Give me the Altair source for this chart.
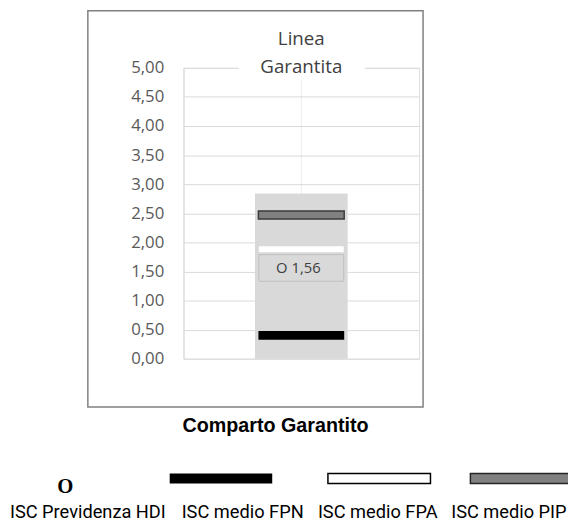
import altair as alt
import pandas as pd

# ---- data ----
categories = ["Linea Garantita"]
series_names = ["ISC Previdenza HDI", "ISC medio FPN", "ISC medio FPA", "ISC medio PIP"]
series_values = [1.56, 0.40, 1.88, 2.47]
range_low = [0.0]
range_high = [2.84]
y_ticks = [0, 0.5, 1, 1.5, 2, 2.5, 3, 3.5, 4, 4.5, 5]
title_text = "Comparto Garantito"

df_series = pd.DataFrame({"cat": categories * len(series_names),
                          "series": series_names, "value": series_values})
df_range = pd.DataFrame({"cat": categories, "low": range_low, "value": range_high})
df_cat = pd.DataFrame({"cat": categories})
one = pd.DataFrame({"k": [0]})

# ---- layout / style ----
PLOT_W, PLOT_H = 239, 295
LEG_FONT = "Roboto"
AX_FONT = "Open Sans"

x_enc = alt.X("cat:N",
              scale=alt.Scale(paddingInner=0, paddingOuter=0.771),
              axis=alt.Axis(labels=False, ticks=False, domain=False, title=None,
                            grid=True, gridColor="#ececec", bandPosition=0.5))
y_enc = alt.Y("value:Q",
              scale=alt.Scale(domain=[0, 5], nice=False, zero=True),
              axis=alt.Axis(values=y_ticks, title=None, ticks=False,
                            labelExpr="replace(format(datum.value, '.2f'), '.', ',')",
                            labelPadding=20, labelFontSize=17, labelColor="#595959",
                            labelFont=AX_FONT, grid=True, gridColor="#d9d9d9",
                            domainColor="#d9d9d9"))

bg = alt.Chart(df_range).mark_bar(color="#d9d9d9").encode(
    x=x_enc, y=y_enc, y2="low:Q")

def tick(name, **kw):
    return alt.Chart(df_series).transform_filter(
        alt.datum.series == name).mark_tick(orient="horizontal", opacity=1, **kw).encode(
        x=x_enc, y=y_enc)

pip = tick("ISC medio PIP", size=87, thickness=8, color="#808080",
           stroke="#3a3a3a", strokeWidth=1.5)
fpa = tick("ISC medio FPA", size=86, thickness=6, color="#ffffff")
fpn = tick("ISC medio FPN", size=87, thickness=9, color="#000000")
hdi_box = tick("ISC Previdenza HDI", size=86, thickness=27, color="#d9d9d9",
               stroke="#bfbfbf", strokeWidth=1)
hdi_txt = alt.Chart(df_series).transform_filter(
    alt.datum.series == "ISC Previdenza HDI").transform_calculate(
    label="'O ' + replace(format(datum.value, '.2f'), '.', ',')").mark_text(
    dx=-3, fontSize=15, color="#404040", font=AX_FONT, baseline="middle").encode(
    x=x_enc, y=y_enc, text="label:N")

# white label box behind the category name
cat_bg = alt.Chart(one).mark_rect(fill="#ffffff").encode(
    x=alt.value(56), x2=alt.value(184), y=alt.value(-44), y2=alt.value(12))
cat_txt = alt.Chart(df_cat).mark_text(
    lineBreak=" ", lineHeight=29, fontSize=19, color="#404040", font=AX_FONT,
    baseline="middle").encode(x=x_enc, y=alt.value(-29.5), text="cat:N")

border = alt.Chart(one).mark_rect(fillOpacity=0, stroke="#808080", strokeWidth=1.5).encode(
    x=alt.value(-97), x2=alt.value(243), y=alt.value(-58), y2=alt.value(344))

title = alt.Chart(one).mark_text(
    align="left", baseline="alphabetic", fontWeight="bold", fontSize=20,
    font="Liberation Sans", color="#000000").encode(
    x=alt.value(-1), y=alt.value(369), text=alt.value(title_text))

# legend layout (pixel positions relative to plot origin)
label_x = [-97, 60, 197, 330]
label_y = 457
sym_x = [-120, 38, 198.5, 343]
sym_y = 416.5
sym_len, sym_th = 104, 10
sym_style = [None,
             dict(fill="#000000"),
             dict(fill="#ffffff", stroke="#000000", strokeWidth=1.5),
             dict(fill="#808080", stroke="#262626", strokeWidth=1.5)]

legend_layers = []
for i, name in enumerate(series_names):
    legend_layers.append(alt.Chart(one).mark_text(
        fontSize=18.5, font=LEG_FONT, color="#000000", baseline="alphabetic").encode(
        x=alt.value(label_x[i]), y=alt.value(label_y), text=alt.value(name)))
    if sym_style[i] is None:
        legend_layers.append(alt.Chart(one).mark_text(
            fontSize=21, font="Liberation Serif", fontWeight="bold", color="#000000",
            baseline="middle").encode(
            x=alt.value(sym_x[i]), y=alt.value(425), text=alt.value("O")))
    else:
        legend_layers.append(alt.Chart(one).mark_rect(**sym_style[i]).encode(
            x=alt.value(sym_x[i] - sym_len / 2), x2=alt.value(sym_x[i] + sym_len / 2),
            y=alt.value(sym_y - sym_th / 2), y2=alt.value(sym_y + sym_th / 2)))

chart = alt.layer(bg, pip, fpa, fpn, hdi_box, hdi_txt, cat_bg, cat_txt, border, title,
                  *legend_layers).properties(
    width=PLOT_W, height=PLOT_H,
    autosize=alt.AutoSizeParams(type="none"),
    padding={"left": 178, "top": 57, "right": 151, "bottom": 165},
).configure_view(stroke="#d9d9d9").configure(background="#ffffff")

chart.save("out.html", embed_options={"renderer": "svg", "actions": False})
